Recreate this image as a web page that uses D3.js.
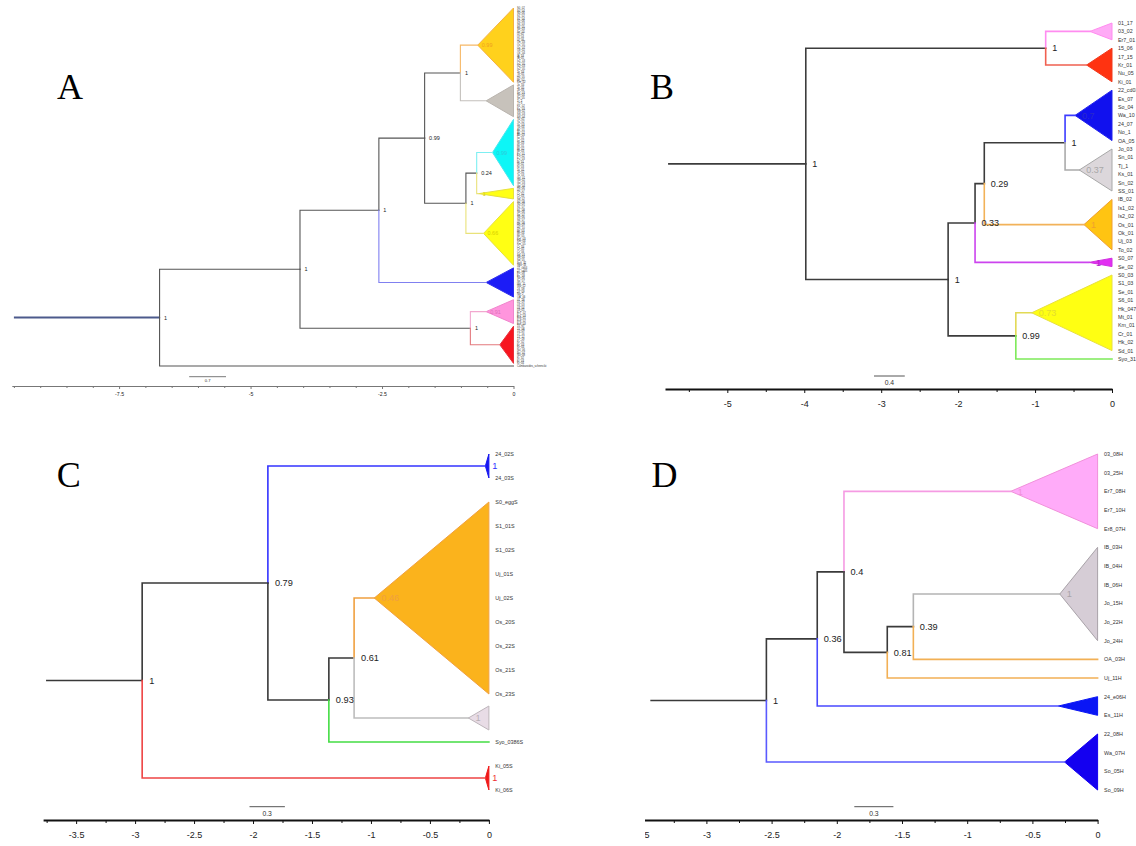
<!DOCTYPE html>
<html><head><meta charset="utf-8">
<script src="https://cdn.jsdelivr.net/npm/d3@7"></script>
<style>body{margin:0;background:#fff}svg{display:block}</style>
</head><body>
<svg id="fig" width="1136" height="846"></svg>
<script>
// ================= DATA =================
// ---- Panel A ----
const A_tips = {
  orange: "S0_02 S0_04 S0_06 S1_02 S1_04 S1_06 S6_03 S6_05 Se_03 Se_05 Uj_02 Uj_04 Uj_06 Os_03 Os_05 Os_07 Ok_02 Ok_04 IB_03 IB_05 Is1_03 Is1_05 Is2_03 Is2_05 To_03 To_05 Hk_05 Mt_02 Km_02".split(" "),
  gray: "Jo_04 Jo_05 Jo_06 Sn_03 Sn_04 Sn_05 Tj_2 Tj_3 Ks_02 Ks_03 SS_02 SS_03 SS_04".split(" "),
  cyan: "Ya_01 Ya_02 Ya_03 Ya_04 Ak_01 Ak_02 Ak_03 Iw_01 Iw_02 Iw_03 Mi_01 Mi_02 Mi_03 Fu_01 Fu_02 Fu_03 Ni_01 Ni_02 Ni_03 Ta_01 Ta_02 Ta_03 Go_01 Go_02 Go_03 Go_04".split(" "),
  ysmall: "Hk_06 Hk_07 Cr_02 Cr_03 Sd_02".split(" "),
  yellow: "S0_08 S0_09 S1_07 S1_08 Se_06 Se_07 S6_06 S6_07 Hk_08 Hk_09 Hk_10 Mt_03 Mt_04 Mt_05 Km_03 Km_04 Km_05 Cr_04 Cr_05 Cr_06 Sd_03 Sd_04 Sd_05 Syo_32 Syo_33".split(" "),
  blue: "22_cd04 22_cd05 Es_08 Es_09 So_06 So_07 Wa_11 Wa_12 24_08 24_09 No_2 OA_06".split(" "),
  pink: "01_18 01_19 03_03 03_04 03_05 Er7_02 Er7_03 Er8_01 Er8_02 Er8_03".split(" "),
  red: "15_07 15_08 15_09 17_16 17_17 17_18 Kr_02 Kr_03 Kr_04 Nu_06 Nu_07 Nu_08 Ki_02 Ki_03 Ki_04".split(" "),
  out: ["Cambaroides_schrenckii"]
};
const A_nodes = [ // [id, parent, node height, posterior]
  ["r", null, -6.73, "1"],
  ["n1", "r", -4.06, "1"],
  ["n2", "n1", -2.56, "1"],
  ["n3", "n2", -1.69, "0.99"],
  ["n4", "n3", -1.01, "1"],
  ["n5", "n3", -0.905, "1"],
  ["n6", "n5", -0.70, "0.24"],
  ["n7", "n1", -0.82, "1"]
];
const A_clades = [ // [id, parent, collapsed-clade height, posterior]
  ["orange", "n4", -0.68, "0.99"],
  ["gray", "n4", -0.52, ""],
  ["cyan", "n6", -0.40, "0.99"],
  ["ysmall", "n6", -0.66, "1"],
  ["yellow", "n5", -0.57, "0.66"],
  ["blue", "n2", -0.52, ""],
  ["pink", "n7", -0.52, "0.91"],
  ["red", "n7", -0.26, ""],
  ["out", "r", 0, ""]
];
const A_domain = [-9.54, 0];
const A_rootStart = -9.5;
const A_ticks = [-7.5, -5, -2.5, 0];
const A_minor = [-9.5, -9, -8.5, -8, -7, -6.5, -6, -5.5, -4.5, -4, -3.5, -3, -2, -1.5, -1, -0.5];
const A_scale = 0.7;

// ---- Panel B ----
const B_tips = {
  pink: ["01_17", "03_02", "Er7_01"],
  red: ["15_06", "17_15", "Kr_01", "Nu_05", "Ki_01"],
  blue: ["22_cd03", "Es_07", "So_04", "Wa_10", "24_07", "No_1", "OA_05"],
  gray: ["Jo_03", "Sn_01", "Tj_1", "Ks_01", "Sn_02", "SS_01"],
  orange: ["IB_02", "Is1_02", "Is2_02", "Os_01", "Ok_01", "Uj_03", "To_02"],
  purple: ["S0_07", "Se_02"],
  yellow: ["S0_03", "S1_03", "Se_01", "S6_01", "Hk_047", "Mt_01", "Km_01", "Cr_01", "Hk_02", "Sd_01"],
  syo: ["Syo_31"]
};
const B_nodes = [
  ["r", null, -3.98, "1"],
  ["a", "r", -0.862, "1"],
  ["b", "r", -2.13, "1"],
  ["c", "b", -1.78, "0.33"],
  ["d", "c", -1.66, "0.29"],
  ["e", "d", -0.61, "1"],
  ["f", "b", -1.25, "0.99"]
];
const B_clades = [
  ["pink", "a", -0.286, ""],
  ["red", "a", -0.33, ""],
  ["blue", "e", -0.48, "0.7"],
  ["gray", "e", -0.425, "0.37"],
  ["orange", "d", -0.364, "1"],
  ["purple", "c", -0.30, "1"],
  ["yellow", "f", -1.044, "0.73"],
  ["syo", "f", 0, ""]
];
const B_domain = [-5.81, 0];
const B_rootStart = -5.77;
const B_ticks = [-5, -4, -3, -2, -1, 0];
const B_minor = [-5.5, -4.5, -3.5, -2.5, -1.5, -0.5];
const B_scale = 0.4;

// ---- Panel C ----
const C_tips = {
  blue: ["24_02S", "24_03S"],
  orange: ["S0_eggS", "S1_01S", "S1_02S", "Uj_01S", "Uj_02S", "Os_20S", "Os_22S", "Os_21S", "Os_23S"],
  gray: [],
  syo: ["Syo_0386S"],
  red: ["Ki_05S", "Ki_06S"]
};
const C_nodes = [
  ["r", null, -2.94, "1"],
  ["a", "r", -1.874, "0.79"],
  ["b", "a", -1.357, "0.93"],
  ["c", "b", -1.143, "0.61"]
];
const C_clades = [
  ["blue", "a", -0.03, "1"],
  ["orange", "c", -0.972, "0.46"],
  ["gray", "c", -0.174, "1"],
  ["syo", "b", 0, ""],
  ["red", "r", -0.03, "1"]
];
const C_domain = [-3.78, 0];
const C_rootStart = -3.755;
const C_ticks = [-3.5, -3, -2.5, -2, -1.5, -1, -0.5, 0];
const C_minor = [-3.75, -3.25, -2.75, -2.25, -1.75, -1.25, -0.75, -0.25];
const C_scale = 0.3;

// ---- Panel D ----
const D_tips = {
  pink: ["03_08H", "03_25H", "Er7_08H", "Er7_10H", "Er8_07H"],
  gray: ["IB_03H", "IB_04H", "IB_06H", "Jo_15H", "Jo_22H", "Jo_24H"],
  oa: ["OA_03H"],
  uj: ["Uj_11H"],
  blue1: ["24_e06H", "Es_11H"],
  blue2: ["22_08H", "Wa_07H", "So_05H", "So_09H"]
};
const D_nodes = [
  ["r", null, -2.54, "1"],
  ["a", "r", -2.15, "0.36"],
  ["b", "a", -1.945, "0.4"],
  ["c", "b", -1.613, "0.81"],
  ["d", "c", -1.413, "0.39"]
];
const D_clades = [
  ["pink", "b", -0.666, "1"],
  ["gray", "d", -0.29, "1"],
  ["oa", "d", 0, ""],
  ["uj", "c", 0, ""],
  ["blue1", "a", -0.30, ""],
  ["blue2", "r", -0.253, ""]
];
const D_domain = [-3.5, 0];
const D_rootStart = -3.43;
const D_ticks = [-3.5, -3, -2.5, -2, -1.5, -1, -0.5, 0];
const D_minor = [-3.25, -2.75, -2.25, -1.75, -1.25, -0.75, -0.25];
const D_scale = 0.3;

// ================= LAYOUT / STYLE =================
const SANS = "Liberation Sans, Arial, sans-serif";
const panels = [
  {letter: "A", lx: 57, ly: 99, tips: A_tips, nodes: A_nodes, clades: A_clades, domain: A_domain, rootStart: A_rootStart,
   ticks: A_ticks, minor: A_minor, scale: A_scale,
   xRange: [11.8, 513.5], yRange: [8, 366], axisY: 386, lw: 1.1, black: "#555",
   stemColor: "#4C5A8C", stemW: 2,
   tipOff: 3.5, tipFs: 2.7, nodeFs: 5.5, nodeOff: 4.5, cladeOff: 4, tickFs: 5.2, tickLen: 3, minorLen: 2, tickPad: 3.5,
   axisColor: "#777", axisW: 1, sbX: 189.2, sbY: 376.7, sbFs: 4.2, sbW: 0.8,
   branch: {orange: "#F6B867", gray: "#C4C0BC", cyan: "#7DEFF2", ysmall: "#E9E27A", yellow: "#E9E27A", blue: "#8080F0", pink: "#F2A8CF", red: "#E47A7E"},
   fill: {orange: "#FFD11C", gray: "#C7C2BB", cyan: "#0DF6F6", ysmall: "#FFFF14", yellow: "#FFFF14", blue: "#1C1CF6", pink: "#FF95DD", red: "#F7151F"},
   stroke: {orange: "#F4B040", gray: "#B9B4AE", cyan: "#4EE6EE", ysmall: "#E6E040", yellow: "#E6E040", blue: "#3030EE", pink: "#F085CC", red: "#E8303A"},
   lab: {orange: "#F0A020", cyan: "#30C8D8", ysmall: "#D8D000", yellow: "#D8D000", pink: "#E070B8"}},
  {letter: "B", lx: 650, ly: 99, tips: B_tips, nodes: B_nodes, clades: B_clades, domain: B_domain, rootStart: B_rootStart,
   ticks: B_ticks, minor: B_minor, scale: B_scale,
   xRange: [665, 1112], yRange: [23, 359], axisY: 389, lw: 1.6, black: "#3C3C3C",
   tipOff: 6, tipFs: 5.3, nodeFs: 9, nodeOff: 6.5, cladeOff: 7, tickFs: 9, tickLen: 4, minorLen: 3, tickPad: 8,
   axisColor: "#111", axisW: 1.8, sbX: 874, sbY: 376, sbFs: 6.8, sbW: 1,
   branch: {pink: "#FF8CF0", red: "#F06050", blue: "#3C3CFF", gray: "#ABABAB", orange: "#F2B259", purple: "#CC44EE", yellow: "#E2DA55", syo: "#7EEA5A"},
   fill: {pink: "#FFAAF6", red: "#FF3311", blue: "#1111EE", gray: "#DCD7DB", orange: "#FFC412", purple: "#E22EF2", yellow: "#FFFF12"},
   stroke: {pink: "#FF8CEF", red: "#F03A1F", blue: "#2222EE", gray: "#A8A8A8", orange: "#F0A030", purple: "#D030E0", yellow: "#E8E040"},
   lab: {blue: "#2A2ACC", gray: "#A8A8A8", orange: "#EEA030", purple: "#B020C8", yellow: "#E4DC30"}},
  {letter: "C", lx: 56.7, ly: 487, tips: C_tips, nodes: C_nodes, clades: C_clades, domain: C_domain, rootStart: C_rootStart,
   ticks: C_ticks, minor: C_minor, scale: C_scale,
   xRange: [43.1, 488.9], yRange: [454, 790], axisY: 820, lw: 1.6, black: "#383838",
   tipOff: 6.4, tipFs: 5.4, nodeFs: 9.2, nodeOff: 7, cladeOff: 7, tickFs: 9, tickLen: 4, minorLen: 3, tickPad: 8,
   axisColor: "#111", axisW: 1.8, sbX: 249.5, sbY: 806.7, sbFs: 6.8, sbW: 1,
   branch: {blue: "#3333FF", orange: "#F0A040", gray: "#BDBDBD", syo: "#44DD44", red: "#EE4444"},
   fill: {blue: "#1515F0", orange: "#FBB31C", gray: "#E8DCE6", red: "#F01818"},
   stroke: {blue: "#1515F0", orange: "#F0A040", gray: "#BDB5BB", red: "#F01818"},
   lab: {blue: "#3030FF", orange: "#F0A040", gray: "#B8B0B6", red: "#F03030"}},
  {letter: "D", lx: 651.5, ly: 487, tips: D_tips, nodes: D_nodes, clades: D_clades, domain: D_domain, rootStart: D_rootStart,
   ticks: D_ticks, minor: D_minor, scale: D_scale, clipX: 645,
   xRange: [641.2, 1097.6], yRange: [454, 790], axisY: 820, lw: 1.6, black: "#3A3A3A",
   tipOff: 6.5, tipFs: 5.4, nodeFs: 9.2, nodeOff: 6.5, cladeOff: 7, tickFs: 9, tickLen: 4, minorLen: 3, tickPad: 8,
   axisColor: "#111", axisW: 1.8, sbX: 854.3, sbY: 806.7, sbFs: 6.8, sbW: 1,
   branch: {pink: "#F59BE3", gray: "#B4B4B4", oa: "#F2B055", uj: "#F2B055", blue1: "#4A4AFF", blue2: "#5A5AFF"},
   fill: {pink: "#FFABF9", gray: "#D6CDD6", blue1: "#0A16F5", blue2: "#1400F0"},
   stroke: {pink: "#F090DA", gray: "#A9A3A9", blue1: "#0A16F5", blue2: "#1400F0"},
   lab: {pink: "#F090DA", gray: "#A9A3A9"}}
];

// ================= DRAW =================
const svg = d3.select("#fig");
const defs = svg.append("defs");

function drawPanel(P, i) {
  let g = svg.append("g");
  if (P.clipX != null) {
    defs.append("clipPath").attr("id", "clip" + i).append("rect")
      .attr("x", P.clipX).attr("y", 420).attr("width", 1136 - P.clipX).attr("height", 426);
    g.attr("clip-path", `url(#clip${i})`);
  }
  const rows = P.nodes.map(d => ({id: d[0], parent: d[1], time: d[2], support: d[3], clade: false}))
    .concat(P.clades.map((d, k) => ({id: d[0], parent: d[1], time: d[2], support: d[3], clade: true, order: k, tips: P.tips[d[0]]})));
  const root = d3.stratify().id(d => d.id).parentId(d => d.parent)(rows);
  root.eachAfter(n => { n.rank = n.children ? d3.min(n.children, c => c.rank) : n.data.order; });
  root.sort((a, b) => a.rank - b.rank);

  let slot = 0;
  const tipRows = [];
  root.leaves().forEach(l => {
    const t = l.data.tips;
    const n = Math.max(t.length, 1);
    l.s0 = slot; l.s1 = slot + n - 1;
    t.forEach((name, k) => tipRows.push({name, slot: slot + k}));
    slot += n;
  });
  const x = d3.scaleLinear().domain(P.domain).range(P.xRange);
  const y = d3.scaleLinear().domain([0, slot - 1]).range(P.yRange);
  const step = y(1) - y(0);
  root.eachAfter(n => {
    n.py = n.children ? d3.mean(n.children, c => c.py) : (y(n.s0) + y(n.s1)) / 2;
    n.px = x(n.data.time);
  });

  // triangles (collapsed clades)
  const tri = root.leaves().filter(l => l.data.tips.length !== 1);
  g.append("g").selectAll("path").data(tri).join("path")
    .attr("d", l => {
      const y0 = l.data.tips.length ? y(l.s0) : y(l.s0) - step / 2;
      const y1 = l.data.tips.length ? y(l.s1) : y(l.s1) + step / 2;
      return `M${l.px},${l.py}L${x(0)},${y0}L${x(0)},${y1}Z`;
    })
    .attr("fill", l => P.fill[l.id]).attr("stroke", l => P.stroke[l.id]).attr("stroke-width", 1)
    .attr("stroke-linejoin", "miter");

  // root stem
  g.append("path").attr("d", `M${x(P.rootStart)},${root.py}H${root.px}`)
    .attr("fill", "none").attr("stroke", P.stemColor || P.black).attr("stroke-width", P.stemW || P.lw);

  // branches
  g.append("g").selectAll("path").data(root.descendants().filter(n => n.parent)).join("path")
    .attr("d", n => `M${n.parent.px},${n.parent.py}V${n.py}H${n.px}`)
    .attr("fill", "none").attr("stroke", n => P.branch[n.id] || P.black)
    .attr("stroke-width", P.lw).attr("stroke-linecap", "square");

  // node supports
  g.append("g").selectAll("text").data(root.descendants().filter(n => n.children && n.data.support)).join("text")
    .attr("x", n => n.px + P.nodeOff).attr("y", n => n.py).attr("dy", "0.36em")
    .attr("font-family", SANS).attr("font-size", P.nodeFs).attr("fill", "#222")
    .text(n => n.data.support);
  // clade supports
  g.append("g").selectAll("text").data(root.leaves().filter(n => n.data.support)).join("text")
    .attr("x", n => n.px + P.cladeOff).attr("y", n => n.py).attr("dy", "0.36em")
    .attr("font-family", SANS).attr("font-size", P.nodeFs).attr("fill", n => P.lab[n.id] || "#222")
    .text(n => n.data.support);

  // tip labels
  g.append("g").selectAll("text").data(tipRows).join("text")
    .attr("x", x(0) + P.tipOff).attr("y", d => y(d.slot)).attr("dy", "0.36em")
    .attr("font-family", SANS).attr("font-size", P.tipFs).attr("fill", "#333")
    .text(d => d.name);

  // axis
  const ax = g.append("g").attr("transform", `translate(0,${P.axisY})`)
    .call(d3.axisBottom(x).tickValues(P.ticks).tickFormat(d => String(d))
      .tickSizeInner(P.tickLen).tickSizeOuter(0).tickPadding(P.tickPad));
  ax.select(".domain").attr("stroke", P.axisColor).attr("stroke-width", P.axisW);
  ax.selectAll(".tick line").attr("stroke", P.axisColor).attr("stroke-width", 1);
  ax.selectAll(".tick text").attr("font-family", SANS).attr("font-size", P.tickFs).attr("fill", "#222");
  const mx = g.append("g").attr("transform", `translate(0,${P.axisY})`)
    .call(d3.axisBottom(x).tickValues(P.minor).tickFormat("").tickSizeInner(P.minorLen).tickSizeOuter(0));
  mx.select(".domain").remove();
  mx.selectAll(".tick line").attr("stroke", P.axisColor).attr("stroke-width", 1);

  // scale bar
  const sbLen = x(P.scale) - x(0);
  g.append("line").attr("x1", P.sbX).attr("x2", P.sbX + sbLen).attr("y1", P.sbY).attr("y2", P.sbY)
    .attr("stroke", "#555").attr("stroke-width", P.sbW);
  g.append("text").attr("x", P.sbX + sbLen / 2).attr("y", P.sbY + P.sbFs * 0.6).attr("dy", "0.71em")
    .attr("text-anchor", "middle").attr("font-family", SANS).attr("font-size", P.sbFs).attr("fill", "#333")
    .text(String(P.scale));

  // panel letter
  svg.append("text").attr("x", P.lx).attr("y", P.ly)
    .attr("font-family", "Liberation Serif, Times New Roman, serif").attr("font-size", 36).attr("fill", "#000")
    .text(P.letter);
}
panels.forEach(drawPanel);
</script>
</body></html>
